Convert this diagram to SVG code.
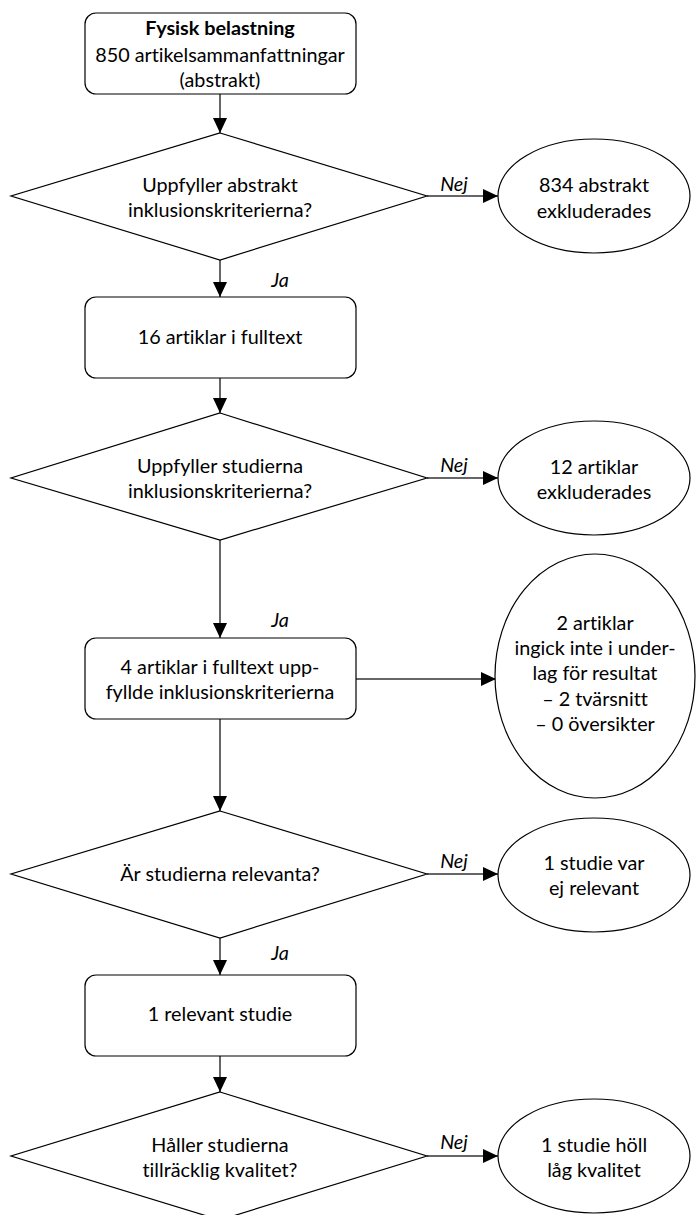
<svg xmlns="http://www.w3.org/2000/svg" width="696" height="1215" viewBox="0 0 696 1215">
<style>
text{font-family:Lato,"Open Sans","Liberation Sans",sans-serif;font-size:19.8px;fill:#000;text-anchor:middle;font-variant-ligatures:none}
.b{font-weight:bold}
.i{font-style:italic}
.box,.dia,.ell{fill:#fff;stroke:#000;stroke-width:1.2}
.con line{stroke:#333;stroke-width:1.5}
</style>
<defs>
<marker id="ah" markerUnits="userSpaceOnUse" markerWidth="15" markerHeight="14" refX="15" refY="7" orient="auto">
<path d="M0,0 L15,7 L0,14 z" fill="#000"/>
</marker>
</defs>
<rect width="696" height="1215" fill="#fff"/>
<g id="connectors" class="con">
<line x1="220" y1="94" x2="220" y2="133" marker-end="url(#ah)"/>
<line x1="427" y1="196" x2="498" y2="196" marker-end="url(#ah)"/>
<line x1="220" y1="260" x2="220" y2="297" marker-end="url(#ah)"/>
<line x1="220" y1="378" x2="220" y2="413" marker-end="url(#ah)"/>
<line x1="427" y1="478" x2="498" y2="478" marker-end="url(#ah)"/>
<line x1="220" y1="540" x2="220" y2="638" marker-end="url(#ah)"/>
<line x1="356" y1="679" x2="496" y2="679" marker-end="url(#ah)"/>
<line x1="220" y1="719" x2="220" y2="811" marker-end="url(#ah)"/>
<line x1="427" y1="874" x2="498" y2="874" marker-end="url(#ah)"/>
<line x1="220" y1="938" x2="220" y2="975" marker-end="url(#ah)"/>
<line x1="220" y1="1056" x2="220" y2="1092" marker-end="url(#ah)"/>
<line x1="427" y1="1156" x2="498" y2="1156" marker-end="url(#ah)"/>
<text class="i" x="454" y="191">Nej</text>
<text class="i" x="280" y="287">Ja</text>
<text class="i" x="454" y="472">Nej</text>
<text class="i" x="280" y="627">Ja</text>
<text class="i" x="454" y="868">Nej</text>
<text class="i" x="280" y="960">Ja</text>
<text class="i" x="454" y="1149">Nej</text>
</g>
<g id="start">
<rect class="box" x="85" y="13" width="271" height="81" rx="11"/>
<text class="b" x="220" y="35">Fysisk belastning</text>
<text x="220" y="62">850 artikelsammanfattningar</text>
<text x="220" y="87">(abstrakt)</text>
</g>
<g id="q1">
<polygon class="dia" points="220,133 427,196 220,260 11,196"/>
<text x="220" y="192">Uppfyller abstrakt</text>
<text x="220" y="217">inklusionskriterierna?</text>
</g>
<g id="ex1">
<ellipse class="ell" cx="594" cy="196" rx="96" ry="57"/>
<text x="594" y="192">834 abstrakt</text>
<text x="594" y="218">exkluderades</text>
</g>
<g id="full16">
<rect class="box" x="85" y="297" width="271" height="81" rx="11"/>
<text x="220" y="344">16 artiklar i fulltext</text>
</g>
<g id="q2">
<polygon class="dia" points="220,413 427,478 220,540 11,478"/>
<text x="220" y="473">Uppfyller studierna</text>
<text x="220" y="498">inklusionskriterierna?</text>
</g>
<g id="ex2">
<ellipse class="ell" cx="594" cy="478" rx="96" ry="57"/>
<text x="594" y="474">12 artiklar</text>
<text x="594" y="499">exkluderades</text>
</g>
<g id="full4">
<rect class="box" x="85" y="638" width="271" height="81" rx="11"/>
<text x="220" y="674">4 artiklar i fulltext upp-</text>
<text x="220" y="699">fyllde inklusionskriterierna</text>
</g>
<g id="ex3">
<ellipse class="ell" cx="595" cy="676" rx="100" ry="122"/>
<text x="595" y="630">2 artiklar</text>
<text x="595" y="655">ingick inte i under-</text>
<text x="595" y="680">lag för resultat</text>
<text x="595" y="706">– 2 tvärsnitt</text>
<text x="595" y="731">– 0 översikter</text>
</g>
<g id="q3">
<polygon class="dia" points="220,811 427,874 220,938 11,874"/>
<text x="220" y="881">Är studierna relevanta?</text>
</g>
<g id="ex4">
<ellipse class="ell" cx="594" cy="875" rx="96" ry="57"/>
<text x="594" y="870">1 studie var</text>
<text x="594" y="895">ej relevant</text>
</g>
<g id="rel1">
<rect class="box" x="85" y="975" width="271" height="81" rx="11"/>
<text x="220" y="1021">1 relevant studie</text>
</g>
<g id="q4">
<polygon class="dia" points="220,1092 427,1156 220,1220 11,1156"/>
<text x="220" y="1152">Håller studierna</text>
<text x="220" y="1177">tillräcklig kvalitet?</text>
</g>
<g id="ex5">
<ellipse class="ell" cx="594" cy="1156" rx="96" ry="57"/>
<text x="594" y="1152">1 studie höll</text>
<text x="594" y="1177">låg kvalitet</text>
</g>
</svg>
